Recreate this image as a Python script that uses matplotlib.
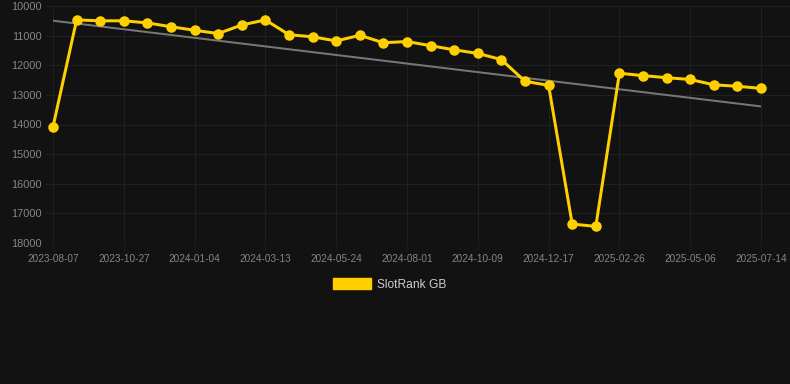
import numpy as np
import matplotlib
matplotlib.use("Agg")
import matplotlib.pyplot as plt
from matplotlib.patches import Patch

# ---- data ----
tick_labels = ["2023-08-07", "2023-10-27", "2024-01-04", "2024-03-13", "2024-05-24",
               "2024-08-01", "2024-10-09", "2024-12-17", "2025-02-26", "2025-05-06",
               "2025-07-14"]
rank_values = [14080, 10470, 10500, 10500, 10570, 10700, 10820, 10930, 10640, 10470,
               10970, 11040, 11180, 10990, 11240, 11200, 11340, 11480, 11600, 11810,
               12540, 12680, 17360, 17440, 12270, 12350, 12420, 12480, 12660, 12710,
               12780]
series_name = "SlotRank GB"
y_ticks = [10000, 11000, 12000, 13000, 14000, 15000, 16000, 17000, 18000]

# ---- style ----
BG = "#121212"
YELLOW = "#FFD000"
TREND = "#777777"
GRID = "#202020"
TICKC = "#858585"

plt.rcParams['font.family'] = ['Liberation Sans', 'DejaVu Sans']

W, H = 790, 384
PT = 0.72  # points per pixel at dpi 100
fig = plt.figure(figsize=(W / 100, H / 100), dpi=100, facecolor=BG)

left_px, right_px, top_px, bottom_px = 46, 790, 6, 243
ax = fig.add_axes([left_px / W, 1 - bottom_px / H,
                   (right_px - left_px) / W, (bottom_px - top_px) / H])
ax.set_facecolor(BG)

x = np.arange(len(rank_values))
y = np.array(rank_values, dtype=float)

# x mapping: point 0 at px 53, point 30 at px 761
p0, p30 = 53, 761
ppu = (p30 - p0) / (len(x) - 1)
ax.set_xlim(-(p0 - left_px) / ppu, (len(x) - 1) + (right_px - p30) / ppu)
ax.set_ylim(18000, 10000)

# trend line (linear regression)
coef = np.polyfit(x, y, 1)
ax.plot(x, np.polyval(coef, x), color=TREND, lw=2 * PT, zorder=2, solid_capstyle='butt')

ax.plot(x, y, color=YELLOW, lw=3 * PT, marker='o', ms=10.5 * PT, mew=0,
        mfc=YELLOW, zorder=3)

tick_pos = x[::3]
ax.set_xticks(tick_pos)
ax.set_xticklabels(tick_labels)
ax.set_yticks(y_ticks)
ax.set_yticklabels([str(v) for v in y_ticks])

ax.grid(True, color=GRID, lw=1 * PT)
ax.set_axisbelow(True)
for s in ax.spines.values():
    s.set_visible(False)

ax.tick_params(axis='x', colors=TICKC, labelsize=10 * PT, length=8 * PT, color="#1a1a1a", pad=2)
ax.tick_params(axis='y', colors=TICKC, labelsize=11 * PT, length=0, pad=3)

leg = fig.legend(handles=[Patch(facecolor=YELLOW, edgecolor=YELLOW, label=series_name)],
                 loc='center', bbox_to_anchor=(389.5 / W, 1 - 284.5 / H),
                 frameon=False, fontsize=12 * PT, handlelength=3.2, handleheight=1.0,
                 handletextpad=0.5, borderpad=0, borderaxespad=0)
for t in leg.get_texts():
    t.set_color("#cccccc")

fig.savefig("out.png", dpi=100, facecolor=BG)
